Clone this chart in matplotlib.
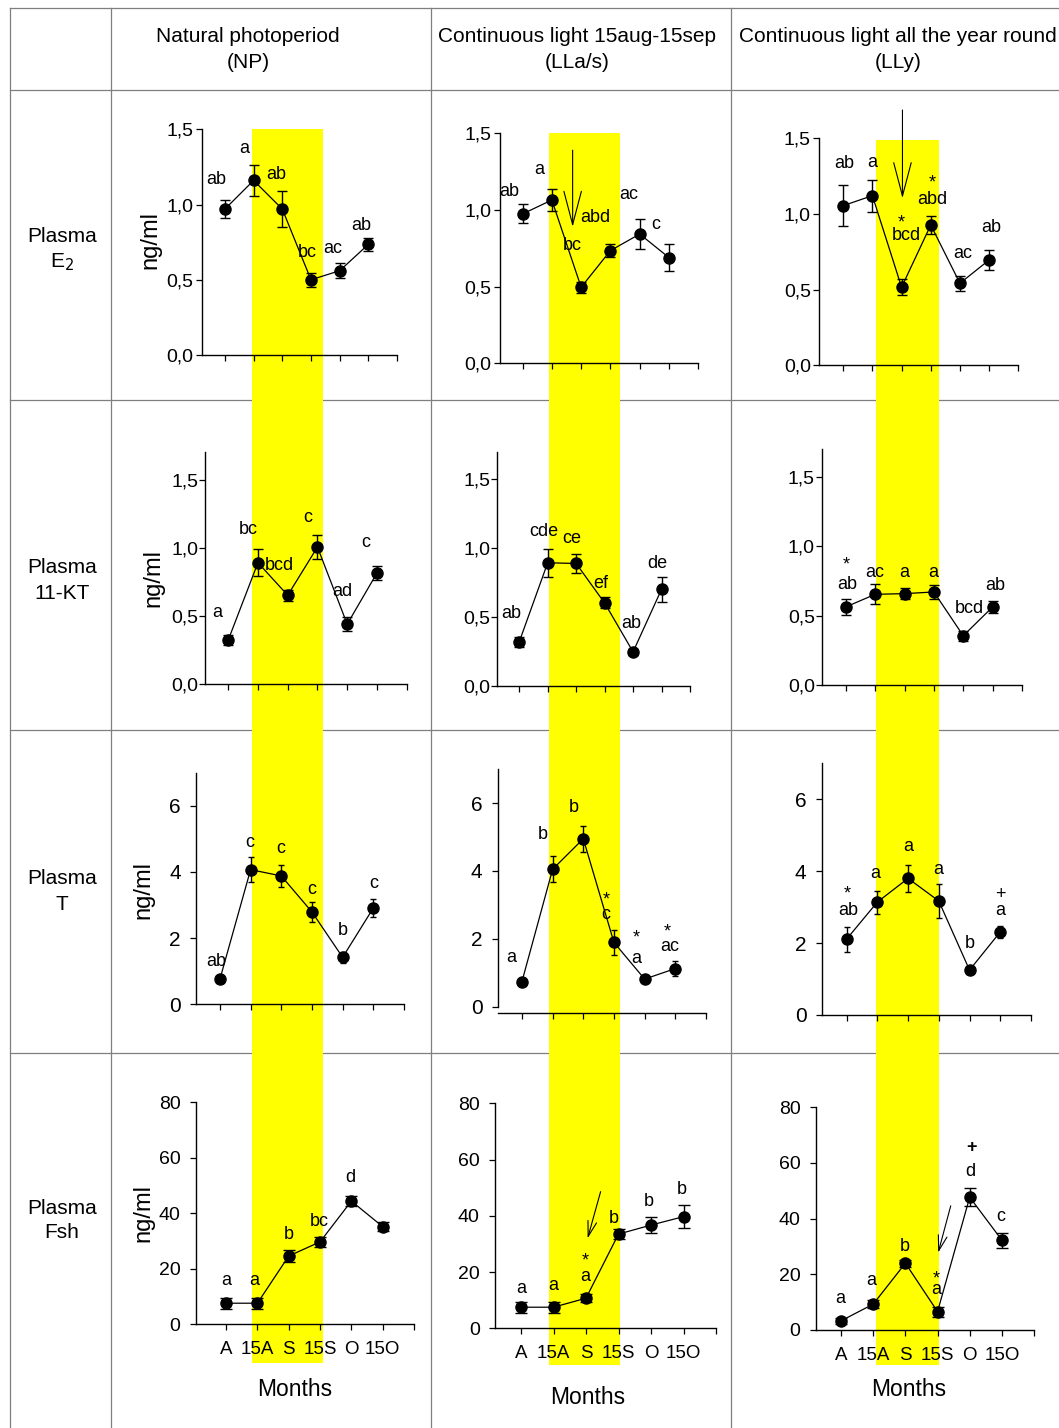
import matplotlib.pyplot as plt
from matplotlib.lines import Line2D
from matplotlib.patches import Rectangle

W, H = 1059, 1428
plt.rcParams["font.family"] = ["Liberation Sans", "DejaVu Sans"]

months = ["A", "15A", "S", "15S", "O", "15O"]
treatments = ["Natural photoperiod\n(NP)",
              "Continuous light 15aug-15sep\n(LLa/s)",
              "Continuous light all the year round\n(LLy)"]
hormones = [("Plasma", "E$_2$"), ("Plasma", "11-KT"), ("Plasma", "T"), ("Plasma", "Fsh")]

# plasma E2 (ng/ml)
e2_np = [0.97, 1.16, 0.97, 0.50, 0.56, 0.735]
e2_np_se = [0.06, 0.10, 0.12, 0.045, 0.05, 0.045]
e2_np_let = ["ab", "a", "ab", "bc", "ac", "ab"]
e2_lla = [0.974, 1.065, 0.496, 0.735, 0.843, 0.689]
e2_lla_se = [0.062, 0.073, 0.035, 0.044, 0.10, 0.089]
e2_lla_let = ["ab", "a", "bc", "abd", "ac", "c"]
e2_lly = [1.055, 1.121, 0.516, 0.927, 0.542, 0.696]
e2_lly_se = [0.135, 0.105, 0.053, 0.06, 0.048, 0.069]
e2_lly_let = ["ab", "a", "bcd", "abd", "ac", "ab"]
e2_lly_mark = ["", "", "*", "*", "", ""]

# plasma 11-KT (ng/ml)
kt_np = [0.322, 0.890, 0.651, 1.005, 0.439, 0.814]
kt_np_se = [0.037, 0.10, 0.04, 0.09, 0.05, 0.05]
kt_np_let = ["a", "bc", "bcd", "c", "ad", "c"]
kt_lla = [0.318, 0.893, 0.888, 0.601, 0.246, 0.700]
kt_lla_se = [0.039, 0.10, 0.067, 0.04, 0.024, 0.09]
kt_lla_let = ["ab", "cde", "ce", "ef", "ab", "de"]
kt_lly = [0.563, 0.654, 0.659, 0.671, 0.355, 0.563]
kt_lly_se = [0.059, 0.072, 0.04, 0.048, 0.038, 0.045]
kt_lly_let = ["ab", "ac", "a", "a", "bcd", "ab"]
kt_lly_mark = ["*", "", "", "", "", ""]

# plasma T (ng/ml)
t_np = [0.76, 4.07, 3.88, 2.79, 1.42, 2.91]
t_np_se = [0.05, 0.37, 0.32, 0.30, 0.17, 0.28]
t_np_let = ["ab", "c", "c", "c", "b", "c"]
t_lla = [0.735, 4.05, 4.95, 1.89, 0.81, 1.12]
t_lla_se = [0.05, 0.38, 0.38, 0.37, 0.05, 0.22]
t_lla_let = ["a", "b", "b", "c", "a", "ac"]
t_lla_mark = ["", "", "", "*", "*", "*"]
t_lly = [2.11, 3.14, 3.80, 3.17, 1.25, 2.31]
t_lly_se = [0.35, 0.32, 0.38, 0.47, 0.07, 0.17]
t_lly_let = ["ab", "a", "a", "a", "b", "a"]
t_lly_mark = ["*", "", "", "", "", "+"]

# plasma Fsh (ng/ml)
fsh_np = [7.6, 7.6, 24.6, 29.7, 44.4, 35.2]
fsh_np_se = [2.0, 2.0, 2.0, 1.8, 1.9, 1.6]
fsh_np_let = ["a", "a", "b", "bc", "d", ""]
fsh_lla = [7.5, 7.5, 10.7, 33.5, 36.7, 39.7]
fsh_lla_se = [2.0, 1.9, 1.4, 1.7, 2.8, 4.1]
fsh_lla_let = ["a", "a", "a", "b", "b", "b"]
fsh_lla_mark = ["", "", "*", "", "", ""]
fsh_lly = [3.3, 9.3, 24.0, 6.6, 47.7, 32.3]
fsh_lly_se = [1.0, 1.5, 1.2, 1.8, 3.2, 2.7]
fsh_lly_let = ["a", "a", "b", "a", "d", "c"]
fsh_lly_mark = ["", "", "", "*", "+", ""]

# light period shading, in month-index units of the bottom axes
light_span = [(0.84, 3.11), (0.86, 3.05), (1.09, 3.03)]

none6 = [""] * 6
z6 = [(0, 0)] * 6

# layout: pixel box (left, right, top, bottom), x-left limit, letter offsets, mark offsets, arrow
panels = [
    # row 0 : E2
    dict(r=0, c=0, box=(201.7, 397, 129.3, 355), xl=-0.81, y=e2_np, se=e2_np_se, let=e2_np_let, mark=none6,
         off=[(-9, 30), (-9, 32), (-6, 35), (-4, 27), (-7, 22), (-7, 19)], moff=z6),
    dict(r=0, c=1, box=(500, 698.3, 133.3, 363.3), xl=-0.77, y=e2_lla, se=e2_lla_se, let=e2_lla_let, mark=none6,
         off=[(-13, 22), (-13, 30), (-9, 42), (-15, 33), (-11, 40), (-13, 33)], moff=z6,
         arrow=((1.71, 0.89), (1.71, 1.39), 24, 6.3)),
    dict(r=0, c=2, box=(819.3, 1018.3, 138.3, 365.3), xl=-0.82, y=e2_lly, se=e2_lly_se, let=e2_lly_let,
         mark=e2_lly_mark, off=[(1, 42), (0, 33), (5, 52), (2, 26), (3, 30), (2, 32)],
         moff=[(0, 0), (0, 0), (0, 70), (1, 48), (0, 0), (0, 0)],
         arrow=((2.03, 1.104), (2.03, 1.687), 24, 6.3)),
    # row 1 : 11-KT
    dict(r=1, c=0, box=(205, 406.7, 452.3, 684), xl=-0.78, y=kt_np, se=kt_np_se, let=kt_np_let, mark=none6,
         off=[(-11, 28), (-10, 33), (-8, 30), (-10, 30), (-5, 33), (-11, 31)], moff=z6),
    dict(r=1, c=1, box=(497.3, 690, 451.7, 685.7), xl=-0.77, y=kt_lla, se=kt_lla_se, let=kt_lla_let, mark=none6,
         off=[(-8, 28), (-4, 31), (-4, 25), (-4, 19), (-2, 28), (-4, 26)], moff=z6),
    dict(r=1, c=2, box=(821.7, 1022, 449.3, 685), xl=-0.82, y=kt_lly, se=kt_lly_se, let=kt_lly_let,
         mark=kt_lly_mark, off=[(1, 22), (0, 22), (0, 21), (-1, 19), (6, 27), (3, 21)],
         moff=[(0, 48), (0, 0), (0, 0), (0, 0), (0, 0), (0, 0)]),
    # row 2 : T
    dict(r=2, c=0, box=(196, 404, 772.7, 1004.3), xl=-0.78, y=t_np, se=t_np_se, let=t_np_let, mark=none6,
         off=[(-4, 18), (-1, 27), (-1, 27), (0, 22), (0, 27), (0, 25)], moff=z6),
    dict(r=2, c=1, box=(497.7, 706, 769.3, 1013.3), xl=-0.79, y=t_lla, se=t_lla_se, let=t_lla_let,
         mark=t_lla_mark, off=[(-11, 24), (-10, 35), (-9, 31), (-8, 28), (-8, 21), (-6, 22)],
         moff=[(0, 0), (0, 0), (0, 0), (-8, 48), (-8, 47), (-8, 43)], ybot=-0.2),
    dict(r=2, c=2, box=(821.7, 1031, 763.3, 1015), xl=-0.81, y=t_lly, se=t_lly_se, let=t_lly_let,
         mark=t_lly_mark, off=[(2, 29), (-2, 29), (0, 32), (-1, 32), (0, 27), (0, 21)],
         moff=[(1, 51), (0, 0), (0, 0), (0, 0), (0, 0), (0, 37)]),
    # row 3 : Fsh
    dict(r=3, c=0, box=(195.7, 414, 1102.3, 1324.3), xl=-0.97, y=fsh_np, se=fsh_np_se, let=fsh_np_let,
         mark=none6, off=[(0, 23), (-3, 23), (0, 22), (-1, 20), (-1, 24), (0, 0)], moff=z6),
    dict(r=3, c=1, box=(495, 716, 1103.3, 1328.3), xl=-0.8, y=fsh_lla, se=fsh_lla_se, let=fsh_lla_let,
         mark=fsh_lla_mark, off=[(0, 19), (0, 22), (-1, 22), (-5, 16), (-2, 24), (-2, 27)],
         moff=[(0, 0), (0, 0), (-1, 43), (0, 0), (0, 0), (0, 0)],
         arrow=((2.05, 32), (2.45, 48.6), 11, 3.2)),
    dict(r=3, c=2, box=(815.7, 1034, 1107.3, 1330), xl=-0.79, y=fsh_lly, se=fsh_lly_se, let=fsh_lly_let,
         mark=fsh_lly_mark, off=[(-1, 22), (-2, 24), (-1, 17), (-1, 22), (1, 26), (-1, 24)],
         moff=[(0, 0), (0, 0), (0, 0), (-1, 39), (2, 50), (0, 0)],
         arrow=((3.02, 27.8), (3.41, 44.6), 11, 3.2)),
]

row_style = [
    dict(ylim=(0, 1.5), ticks=[0, 0.5, 1.0, 1.5], comma=True, cap=3.6, fs=14, pad=1.5),
    dict(ylim=(0, 1.7), ticks=[0, 0.5, 1.0, 1.5], comma=True, cap=3.6, fs=14, pad=0.5),
    dict(ylim=(0, 7), ticks=[0, 2, 4, 6], comma=False, cap=2.5, fs=15, pad=6.5),
    dict(ylim=(0, 80), ticks=[0, 20, 40, 60, 80], comma=False, cap=4.2, fs=14, pad=6.5),
]

fig = plt.figure(figsize=(W / 100, H / 100), dpi=100)


def px(x, y):
    return x / W, 1 - y / H


def add_line(x0, y0, x1, y1):
    a, b = px(x0, y0)
    c, d = px(x1, y1)
    fig.add_artist(Line2D([a, c], [b, d], transform=fig.transFigure, color="#7f7f7f", lw=0.9, zorder=-2))


# table grid
for y in [8, 89.5, 399.5, 730, 1053]:
    add_line(10, y, W, y)
for x in [10, 110.5, 430.5, 730.5]:
    add_line(x, 8, x, H)

# headers and row labels
for cx, txt in zip([248, 577, 898], treatments):
    top, bot = txt.split("\n")
    fig.text(*px(cx, 37), top, ha="center", va="center", fontsize=15)
    fig.text(*px(cx, 63), bot, ha="center", va="center", fontsize=15)
for cy, (a, b) in zip([237, 568, 879, 1208], hormones):
    fig.text(*px(62, cy), a, ha="center", va="center", fontsize=15)
    fig.text(*px(62, cy + 25), b, ha="center", va="center", fontsize=15)

ylab_pos = [(150, 240), (153, 578), (143, 890), (143, 1213)]
for x, y in ylab_pos:
    fig.text(*px(x, y), "ng/ml", rotation=90, ha="center", va="center", fontsize=17)
for x, y in [(295, 1390), (588, 1397), (909, 1390)]:
    fig.text(*px(x, y), "Months", ha="center", va="center", fontsize=16.5)

bottom_axes = {}
for p in panels:
    st = row_style[p["r"]]
    x0, x1, y0, y1 = p["box"]
    ax = fig.add_axes([x0 / W, 1 - y1 / H, (x1 - x0) / W, (y1 - y0) / H])
    ax.patch.set_visible(False)
    ybot = p.get("ybot", st["ylim"][0])
    ax.set_ylim(ybot, st["ylim"][1])
    ax.set_xlim(p["xl"], 6)
    for s in ["top", "right"]:
        ax.spines[s].set_visible(False)
    for s in ["left", "bottom"]:
        ax.spines[s].set_linewidth(1.0)
    if ybot != st["ylim"][0]:
        ax.spines["left"].set_bounds(st["ylim"][0], st["ylim"][1])
    xs = list(range(len(months)))
    ax.errorbar(xs, p["y"], yerr=p["se"], fmt="o-", color="black", ms=8, lw=0.9,
                elinewidth=1.0, capsize=st["cap"], capthick=1.0)
    ax.set_yticks(st["ticks"])
    if st["comma"]:
        ax.set_yticklabels([f"{v:.1f}".replace(".", ",") for v in st["ticks"]])
    else:
        ax.set_yticklabels([str(int(v)) for v in st["ticks"]])
    ax.set_xticks(range(7))
    if p["r"] == 3:
        ax.set_xticklabels(months + [""])
        bottom_axes[p["c"]] = ax
    else:
        ax.set_xticklabels([])
    ax.tick_params(direction="out", length=4.5, width=0.9)
    ax.tick_params(axis="y", labelsize=st["fs"], pad=st["pad"])
    ax.tick_params(axis="x", labelsize=13.5, pad=7.5)

    for i, (lab, (dx, dy)) in enumerate(zip(p["let"], p["off"])):
        if lab:
            ax.annotate(lab, xy=(i, p["y"][i]), xytext=(dx, dy), textcoords="offset pixels",
                        ha="center", va="center", fontsize=13)
    for i, (m, (dx, dy)) in enumerate(zip(p["mark"], p["moff"])):
        if m == "*":
            ax.annotate(m, xy=(i, p["y"][i]), xytext=(dx, dy - 6), textcoords="offset pixels",
                        ha="center", va="center", fontsize=13)
        elif m == "+":
            ax.annotate(m, xy=(i, p["y"][i]), xytext=(dx, dy), textcoords="offset pixels",
                        ha="center", va="center", fontsize=13,
                        fontweight="bold" if p["r"] == 3 else "normal")
    if "arrow" in p:
        tip, tail, hl, hw = p["arrow"]
        ax.annotate("", xy=tip, xytext=tail,
                    arrowprops=dict(arrowstyle=f"->,head_length={hl},head_width={hw}",
                                    lw=0.8, color="black", shrinkA=0, shrinkB=0, mutation_scale=1))

# yellow light period bands (behind the axes, above the grid)
band_top = [129.3, 133.3, 140]
band_bot = [1363, 1365, 1365]
fig.canvas.draw()
for c, (a, b) in enumerate(light_span):
    ax = bottom_axes[c]
    xa = ax.transData.transform((a, 0))[0]
    xb = ax.transData.transform((b, 0))[0]
    fx0, fy0 = xa / W, 1 - band_bot[c] / H
    fig.add_artist(Rectangle((fx0, fy0), (xb - xa) / W, (band_bot[c] - band_top[c]) / H,
                             transform=fig.transFigure, facecolor="#ffff00", edgecolor="none", zorder=-1))

fig.savefig("out.png", dpi=100)
